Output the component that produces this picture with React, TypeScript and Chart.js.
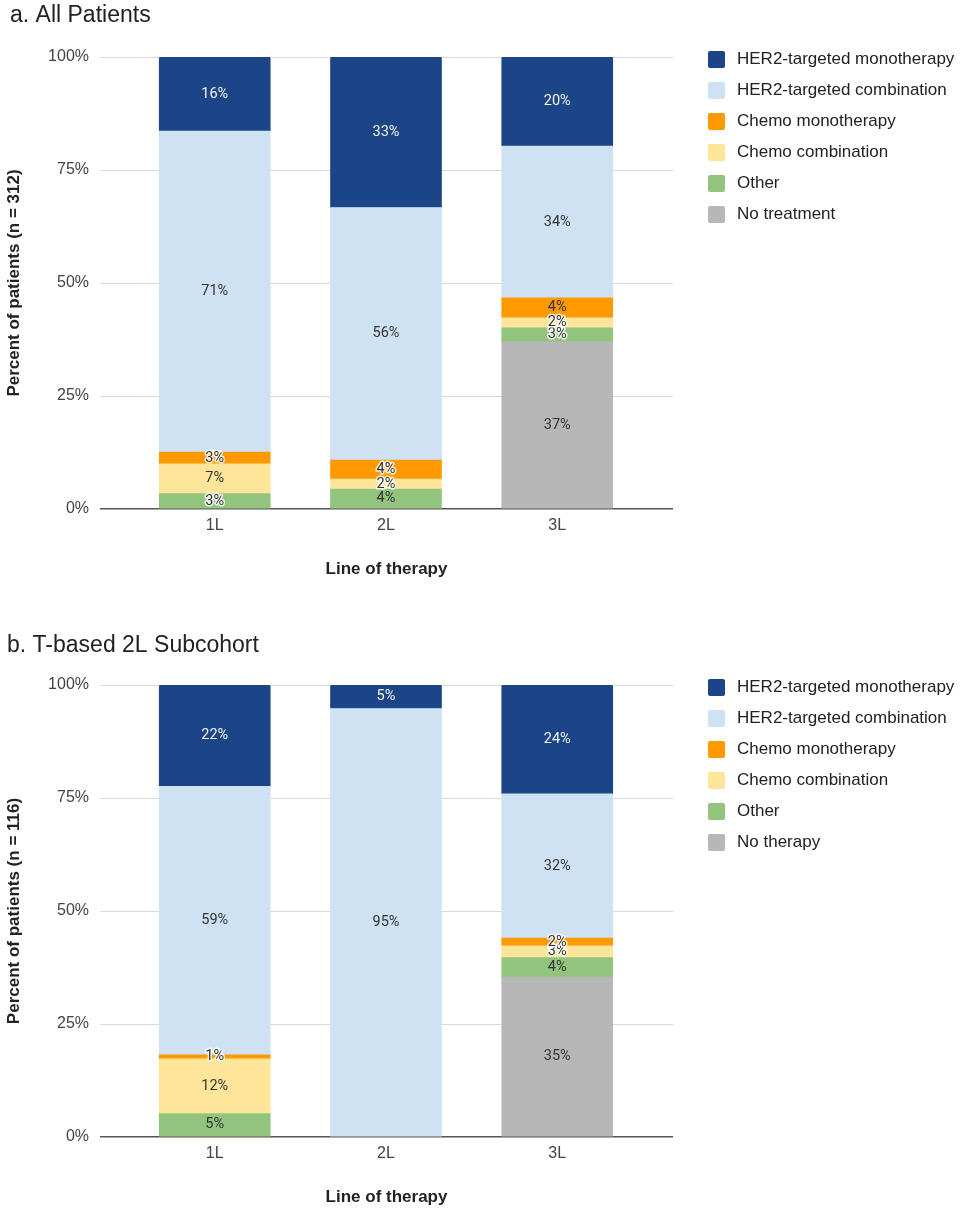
import React, { useEffect, useRef } from 'react';
import { Chart, registerables } from 'chart.js';

Chart.register(...registerables);

// ---------- data ----------
const categories = ['1L', '2L', '3L'];
const seriesNames = [
  'HER2-targeted monotherapy',
  'HER2-targeted combination',
  'Chemo monotherapy',
  'Chemo combination',
  'Other',
];
const noTxNameA = 'No treatment';
const noTxNameB = 'No therapy';

// a. All Patients (percent of patients, n = 312)
const allHer2Mono = [16.4, 33.3, 19.7];
const allHer2Combo = [71.0, 55.9, 33.6];
const allChemoMono = [2.6, 4.2, 4.4];
const allChemoCombo = [6.6, 2.2, 2.2];
const allOther = [3.4, 4.4, 3.1];
const allNoTx = [0, 0, 37.0];

// b. T-based 2L Subcohort (percent of patients, n = 116)
const subHer2Mono = [22.4, 5.2, 24.1];
const subHer2Combo = [59.4, 94.8, 31.9];
const subChemoMono = [0.9, 0, 1.7];
const subChemoCombo = [12.1, 0, 2.6];
const subOther = [5.2, 0, 4.3];
const subNoTx = [0, 0, 35.4];

const yTickValues = [0, 25, 50, 75, 100];

// ---------- styles ----------
const SANS = '"Liberation Sans", Arial, sans-serif';
const ROBOTO = 'Roboto, "Liberation Sans", sans-serif';
const C_HER2_MONO = '#1c4587';
const C_HER2_COMBO = '#cfe2f3';
const C_CHEMO_MONO = '#ff9900';
const C_CHEMO_COMBO = '#ffe599';
const C_OTHER = '#93c47d';
const C_NOTX = '#b7b7b7';

const PLOT_LEFT = 100;
const PLOT_RIGHT = 673;
const PLOT_TOP = 57;
const PLOT_BOTTOM = 509;
const WIDTH = 960;

type PanelSpec = {
  top: number;
  height: number;
  title: string;
  titleX: number;
  titleY: number;
  yTitle: string;
  noTxName: string;
  series: number[][]; // her2Mono, her2Combo, chemoMono, chemoCombo, other, noTx
};

const panelA: PanelSpec = {
  top: 0,
  height: 628,
  title: 'a. All Patients',
  titleX: 10,
  titleY: 22,
  yTitle: 'Percent of patients (n = 312)',
  noTxName: noTxNameA,
  series: [allHer2Mono, allHer2Combo, allChemoMono, allChemoCombo, allOther, allNoTx],
};

const panelB: PanelSpec = {
  top: 628,
  height: 582,
  title: 'b. T-based 2L Subcohort',
  titleX: 7,
  titleY: 24,
  yTitle: 'Percent of patients (n = 116)',
  noTxName: noTxNameB,
  series: [subHer2Mono, subHer2Combo, subChemoMono, subChemoCombo, subOther, subNoTx],
};

function toPoints(arr: number[]) {
  return categories
    .map((_, i) => ({ x: i, y: arr[i] }))
    .filter((p) => p.y > 0);
}

function buildConfig(spec: PanelSpec): any {
  const [h2m, h2c, cm, cc, oth, ntx] = spec.series;
  // stacking order bottom -> top
  const datasets = [
    { label: spec.noTxName, data: toPoints(ntx), backgroundColor: C_NOTX, labelColor: '#333' },
    { label: seriesNames[4], data: toPoints(oth), backgroundColor: C_OTHER, labelColor: '#333' },
    { label: seriesNames[3], data: toPoints(cc), backgroundColor: C_CHEMO_COMBO, labelColor: '#333' },
    { label: seriesNames[2], data: toPoints(cm), backgroundColor: C_CHEMO_MONO, labelColor: '#333' },
    { label: seriesNames[1], data: toPoints(h2c), backgroundColor: C_HER2_COMBO, labelColor: '#333' },
    { label: seriesNames[0], data: toPoints(h2m), backgroundColor: C_HER2_MONO, labelColor: '#f4f4f4' },
  ].map((d) => ({
    ...d,
    borderWidth: 0,
    borderRadius: 2,
    barThickness: 111,
  }));

  const titlePlugin = {
    id: 'panelTitle',
    afterDraw(chart: any) {
      const ctx = chart.ctx;
      ctx.save();
      ctx.font = `23px ${SANS}`;
      ctx.fillStyle = '#222';
      ctx.textAlign = 'left';
      ctx.textBaseline = 'alphabetic';
      ctx.fillText(spec.title, spec.titleX, spec.titleY);
      ctx.restore();
    },
  };

  const legendPlugin = {
    id: 'sideLegend',
    afterDraw(chart: any) {
      const ctx = chart.ctx;
      const ds = chart.data.datasets;
      const n = ds.length;
      ctx.save();
      ctx.font = `17px ${SANS}`;
      ctx.textAlign = 'left';
      ctx.textBaseline = 'middle';
      for (let k = 0; k < n; k++) {
        const d = ds[n - 1 - k];
        const cy = chart.chartArea.top + 2.5 + k * 31;
        ctx.fillStyle = d.backgroundColor;
        ctx.beginPath();
        (ctx as any).roundRect(708, cy - 8.5, 17, 17, 2);
        ctx.fill();
        ctx.fillStyle = '#222';
        ctx.fillText(d.label, 737, cy);
      }
      ctx.restore();
    },
  };

  const labelPlugin = {
    id: 'segLabels',
    afterDatasetsDraw(chart: any) {
      const ctx = chart.ctx;
      ctx.save();
      ctx.font = `14.5px ${ROBOTO}`;
      ctx.textAlign = 'center';
      ctx.textBaseline = 'middle';
      chart.data.datasets.forEach((d: any, di: number) => {
        const meta = chart.getDatasetMeta(di);
        meta.data.forEach((el: any, i: number) => {
          const v = d.data[i].y;
          if (!v || v <= 0) return;
          const { x, y, base } = el.getProps(['x', 'y', 'base'], true);
          const cy = (y + base) / 2;
          const h = Math.abs(base - y);
          const txt = Math.round(v) + '%';
          if (h < 19) {
            ctx.lineWidth = 3;
            ctx.lineJoin = 'round';
            ctx.strokeStyle = 'rgba(255,255,255,0.85)';
            ctx.strokeText(txt, x, cy);
          }
          ctx.fillStyle = d.labelColor;
          ctx.fillText(txt, x, cy);
        });
      });
      ctx.restore();
    },
  };

  const xTitleLine = 17 * 1.2;
  const xTitlePad = spec.height - 569 - xTitleLine / 2;

  return {
    type: 'bar',
    data: { datasets },
    plugins: [titlePlugin, legendPlugin, labelPlugin],
    options: {
      responsive: false,
      animation: false,
      layout: {
        padding: { left: 0, right: WIDTH - PLOT_RIGHT, top: PLOT_TOP, bottom: 0 },
      },
      plugins: {
        legend: { display: false },
        title: { display: false },
        tooltip: { enabled: false },
      },
      scales: {
        x: {
          type: 'linear',
          stacked: true,
          min: -0.67,
          max: 2.676,
          offset: false,
          grid: { display: false, drawTicks: false },
          border: { display: false },
          afterBuildTicks: (s: any) => {
            s.ticks = categories.map((_, i) => ({ value: i }));
          },
          ticks: {
            callback: (v: any) => categories[v] ?? '',
            font: { family: SANS, size: 16 },
            color: '#444',
            padding: 7,
            maxRotation: 0,
            autoSkip: false,
          },
          title: {
            display: true,
            text: 'Line of therapy',
            font: { family: SANS, size: 17, weight: 'bold' },
            color: '#222',
            padding: { top: 0, bottom: xTitlePad },
          },
          afterFit: (s: any) => {
            s.height = spec.height - PLOT_BOTTOM;
          },
        },
        y: {
          type: 'linear',
          stacked: true,
          min: 0,
          max: 100,
          afterBuildTicks: (s: any) => {
            s.ticks = yTickValues.map((v) => ({ value: v }));
          },
          ticks: {
            callback: (v: any) => v + '%',
            font: { family: SANS, size: 16 },
            color: '#444',
            padding: 11,
          },
          grid: {
            drawTicks: false,
            color: (c: any) => (c.tick && c.tick.value === 0 ? '#555' : '#d9d9d9'),
            lineWidth: (c: any) => (c.tick && c.tick.value === 0 ? 1.5 : 1),
          },
          border: { display: false },
          title: {
            display: true,
            text: spec.yTitle,
            font: { family: SANS, size: 17, weight: 'bold' },
            color: '#222',
            padding: { top: 4, bottom: 0 },
          },
          afterFit: (s: any) => {
            s.width = PLOT_LEFT;
          },
        },
      },
    },
  };
}

function Panel({ spec }: { spec: PanelSpec }) {
  const ref = useRef<HTMLCanvasElement>(null);
  useEffect(() => {
    if (!ref.current) return;
    const chart = new Chart(ref.current, buildConfig(spec));
    return () => chart.destroy();
  }, [spec]);
  return (
    <div style={{ position: 'absolute', left: 0, top: spec.top, width: WIDTH, height: spec.height }}>
      <canvas ref={ref} width={WIDTH} height={spec.height} style={{ display: 'block' }} />
    </div>
  );
}

export default function App() {
  return (
    <div style={{ position: 'absolute', left: 0, top: 0, width: WIDTH, height: 1210, background: '#fff', overflow: 'hidden' }}>
      <Panel spec={panelA} />
      <Panel spec={panelB} />
    </div>
  );
}
